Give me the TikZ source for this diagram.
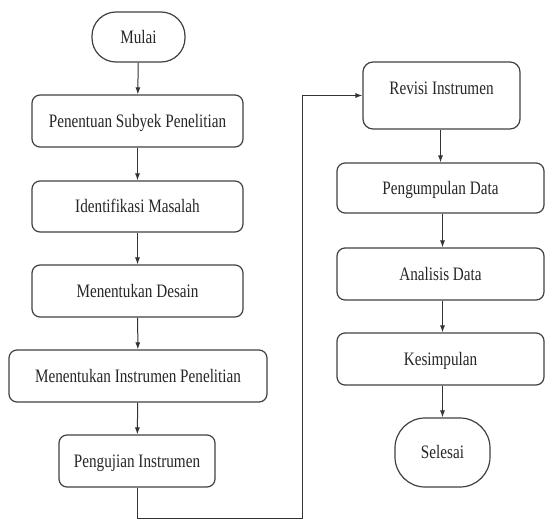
\documentclass[tikz,border=0pt]{standalone}
\usepackage{fontspec}
\newfontfamily\boxfont{Liberation Serif}
\usetikzlibrary{arrows.meta}
\newcommand{\nt}[1]{\scalebox{0.8}[1]{#1}}
\begin{document}
\begin{tikzpicture}[x=1pt,y=-1pt,
  box/.style={draw=black!75, line width=1.2pt, rounded corners=8pt, inner sep=0pt,
    font=\boxfont\fontsize{19}{22}\selectfont, text=black!85, text height=12.6pt, text depth=0pt},
  term/.style={box, rounded corners=24pt},
  flow/.style={draw=black!80, line width=1pt, -{Latex[length=7pt,width=5pt]}},
  line/.style={draw=black!80, line width=1pt}]
\useasboundingbox (0,0) rectangle (545,519);
% left column
\node[term, minimum width=93pt, minimum height=50pt] (mulai) at (138.5,37) {\nt{Mulai}};
\node[box, minimum width=211pt, minimum height=52pt] (p1) at (137.5,121) {\nt{Penentuan Subyek Penelitian}};
\node[box, minimum width=211pt, minimum height=51pt] (p2) at (137.5,206.5) {\nt{Identifikasi Masalah}};
\node[box, minimum width=211pt, minimum height=52pt] (p3) at (137.5,291) {\nt{Menentukan Desain}};
\node[box, minimum width=258pt, minimum height=52pt] (p4) at (138,376) {\nt{Menentukan Instrumen Penelitian}};
\node[box, minimum width=156pt, minimum height=52pt] (p5) at (137,461) {\nt{Pengujian Instrumen}};
% right column
\node[box, minimum width=157pt, minimum height=67pt, rounded corners=10pt, text depth=15pt] (r1) at (441.5,95.5) {\nt{Revisi Instrumen}};
\node[box, minimum width=207pt, minimum height=50pt] (r2) at (440.5,188) {\nt{Pengumpulan Data}};
\node[box, minimum width=207pt, minimum height=52pt] (r3) at (440.5,274) {\nt{Analisis Data}};
\node[box, minimum width=207pt, minimum height=52pt] (r4) at (440.5,359) {\nt{Kesimpulan}};
\node[term, minimum width=95pt, minimum height=69pt, rounded corners=30pt] (r5) at (442.5,452.5) {\nt{Selesai}};
% arrows
\draw[flow] (mulai) -- (p1);
\draw[flow] (p1) -- (p2);
\draw[flow] (p2) -- (p3);
\draw[flow] (p3) -- (p4);
\draw[flow] (p4) -- (p5);
\coordinate (c1) at (137,518);
\coordinate (c2) at (302,518);
\coordinate (c3) at (302,95.5);
\draw[flow] (p5.south) -- (c1) -- (c2) -- (c3) -- (r1.west);
\draw[flow] (r1.south -| r2.north) -- (r2);
\draw[flow] (r2.south -| r5.north) -- (r3.north -| r5.north);
\draw[flow] (r3.south -| r5.north) -- (r4.north -| r5.north);
\draw[flow] (r4.south -| r5.north) -- (r5);
\end{tikzpicture}
\end{document}
